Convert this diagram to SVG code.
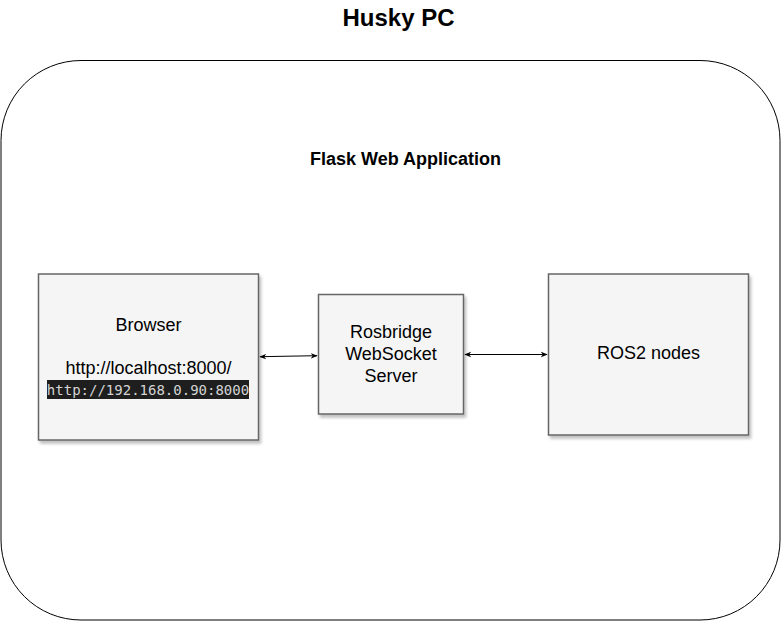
<svg xmlns="http://www.w3.org/2000/svg" width="781" height="621" viewBox="0 0 781 621">
<style>
.node{fill:#f5f5f5;stroke:#666666;stroke-width:1.5}
.t{font-family:"Liberation Sans",Arial,sans-serif;font-size:18px;fill:#000;text-anchor:middle}
.b{font-weight:bold}
.conn{stroke:#000;stroke-width:1;fill:none}
.mono{font-family:"DejaVu Sans Mono","Liberation Mono",monospace;font-size:14px;fill:#d4d4d4;text-anchor:middle}
</style>
<defs>
<filter id="sh" x="-10%" y="-10%" width="130%" height="130%">
<feGaussianBlur in="SourceAlpha" stdDeviation="1.5"/>
<feOffset dx="2" dy="3" result="o"/>
<feComponentTransfer><feFuncA type="linear" slope="0.25"/></feComponentTransfer>
<feMerge><feMergeNode/><feMergeNode in="SourceGraphic"/></feMerge>
</filter>
<marker id="ah" viewBox="0 0 10 10" refX="9" refY="5" markerWidth="7" markerHeight="7" orient="auto-start-reverse" markerUnits="userSpaceOnUse">
<path d="M0,1 L10,5 L0,9 L3,5 Z" fill="#000"/>
</marker>
</defs>
<rect width="781" height="621" fill="#fff"/>
<g id="husky-pc">
<rect x="1" y="60.5" width="779" height="559.5" rx="80" ry="80" fill="#fff" stroke="#000" stroke-width="1"/>
<text class="t b" x="398.5" y="26" style="font-size:24px">Husky PC</text>
<text class="t b" x="405.5" y="165">Flask Web Application</text>
</g>
<g id="connectors">
<line class="conn" x1="260" y1="356.7" x2="317" y2="355.7" marker-start="url(#ah)" marker-end="url(#ah)"/>
<line class="conn" x1="465" y1="354.5" x2="547" y2="354.5" marker-start="url(#ah)" marker-end="url(#ah)"/>
</g>
<g id="browser">
<rect class="node" x="38.5" y="274" width="220" height="166" filter="url(#sh)"/>
<text class="t" x="148.5" y="331">Browser</text>
<text class="t" x="148.5" y="373.5">http://localhost:8000/</text>
<rect x="47" y="380" width="202" height="19" fill="#1e1e1e"/>
<text class="mono" x="148" y="394.5">http://192.168.0.90:8000</text>
</g>
<g id="rosbridge">
<rect class="node" x="318.5" y="294.5" width="145" height="119.5" filter="url(#sh)"/>
<text class="t" x="391" y="338">Rosbridge</text>
<text class="t" x="391" y="360">WebSocket</text>
<text class="t" x="391" y="382">Server</text>
</g>
<g id="ros2-nodes">
<rect class="node" x="548.5" y="274" width="200" height="161" filter="url(#sh)"/>
<text class="t" x="648.5" y="359">ROS2 nodes</text>
</g>
</svg>
